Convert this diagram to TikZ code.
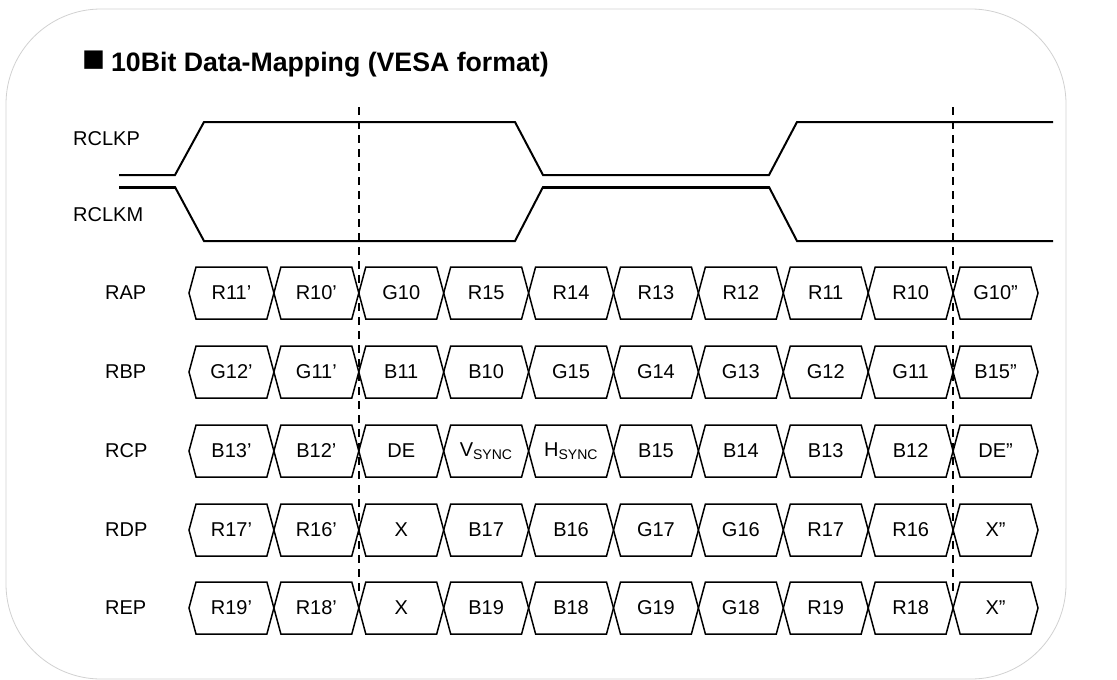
\documentclass[tikz,border=0pt]{standalone}
\usepackage{fontspec}
\setmainfont{Liberation Sans}
\usetikzlibrary{calc}

\tikzset{
  sig/.style={line width=2pt, line join=miter},
  hex/.style={line width=1.5pt, line join=miter},
  cell/.style={font=\fontsize{20}{24}\selectfont, inner sep=0pt},
  signame/.style={font=\fontsize{20}{24}\selectfont, anchor=west, inner sep=0pt},
  cut/.style={line width=1.6pt, dash pattern=on 8pt off 6pt},
}

% one data lane: #1 node name, #2 label, #3 y, #4 cells
\newcommand{\hexrow}[4]{
  \node[signame] (#1) at (105,#3) {#2};
  \foreach \v [count=\k from 0] in {#4} {
    \pgfmathsetmacro\xa{189+84.9*\k}
    \pgfmathsetmacro\xb{\xa+84.9}
    \draw[hex] (\xa,#3) -- (\xa+7,#3-26) -- (\xb-7,#3-26) -- (\xb,#3)
      -- (\xb-7,#3+26) -- (\xa+7,#3+26) -- cycle;
    \node[cell] (#1-\k) at ({(\xa+\xb)/2},#3) {\v};
  }
}

\begin{document}
\begin{tikzpicture}[x=1pt, y=-1pt]
  \useasboundingbox (0,0) rectangle (1117,680);
  \draw[black!18, line width=0.8pt, rounded corners=95pt] (6,9) rectangle (1066,679);

  \node[anchor=base west, inner sep=0pt, font=\bfseries\fontsize{26.7}{30}\selectfont] (title) at (82,71)
    {{\fontsize{38}{38}\selectfont■}\hspace{6pt}10Bit Data-Mapping (VESA format)};

  \node[signame] (rclkp) at (73,139) {RCLKP};
  \node[signame] (rclkm) at (73,215) {RCLKM};
  \draw[sig] (119,175) -- (175,175) -- (204,122) -- (515,122) -- (543,175)
    -- (769,175) -- (797,122) -- (1053,122);
  \draw[sig] (119,187) -- (175,187) -- (204,241) -- (515,241) -- (543,187)
    -- (769,187) -- (797,241) -- (1053,241);
  \draw[sig, line width=3pt] (119,187) -- (175,187) (543,187) -- (769,187);

  \hexrow{rap}{RAP}{293}{R11’,R10’,G10,R15,R14,R13,R12,R11,R10,G10”}
  \hexrow{rbp}{RBP}{372}{G12’,G11’,B11,B10,G15,G14,G13,G12,G11,B15”}
  \hexrow{rcp}{RCP}{451}{B13’,B12’,DE,V\textsubscript{SYNC},H\textsubscript{SYNC},B15,B14,B13,B12,DE”}
  \hexrow{rdp}{RDP}{530}{R17’,R16’,X,B17,B16,G17,G16,R17,R16,X”}
  \hexrow{rep}{REP}{608}{R19’,R18’,X,B19,B18,G19,G18,R19,R18,X”}

  \draw[cut] (358.8,107) -- (358.8,596);
  \draw[cut] (953.1,107) -- (953.1,596);
\end{tikzpicture}
\end{document}
